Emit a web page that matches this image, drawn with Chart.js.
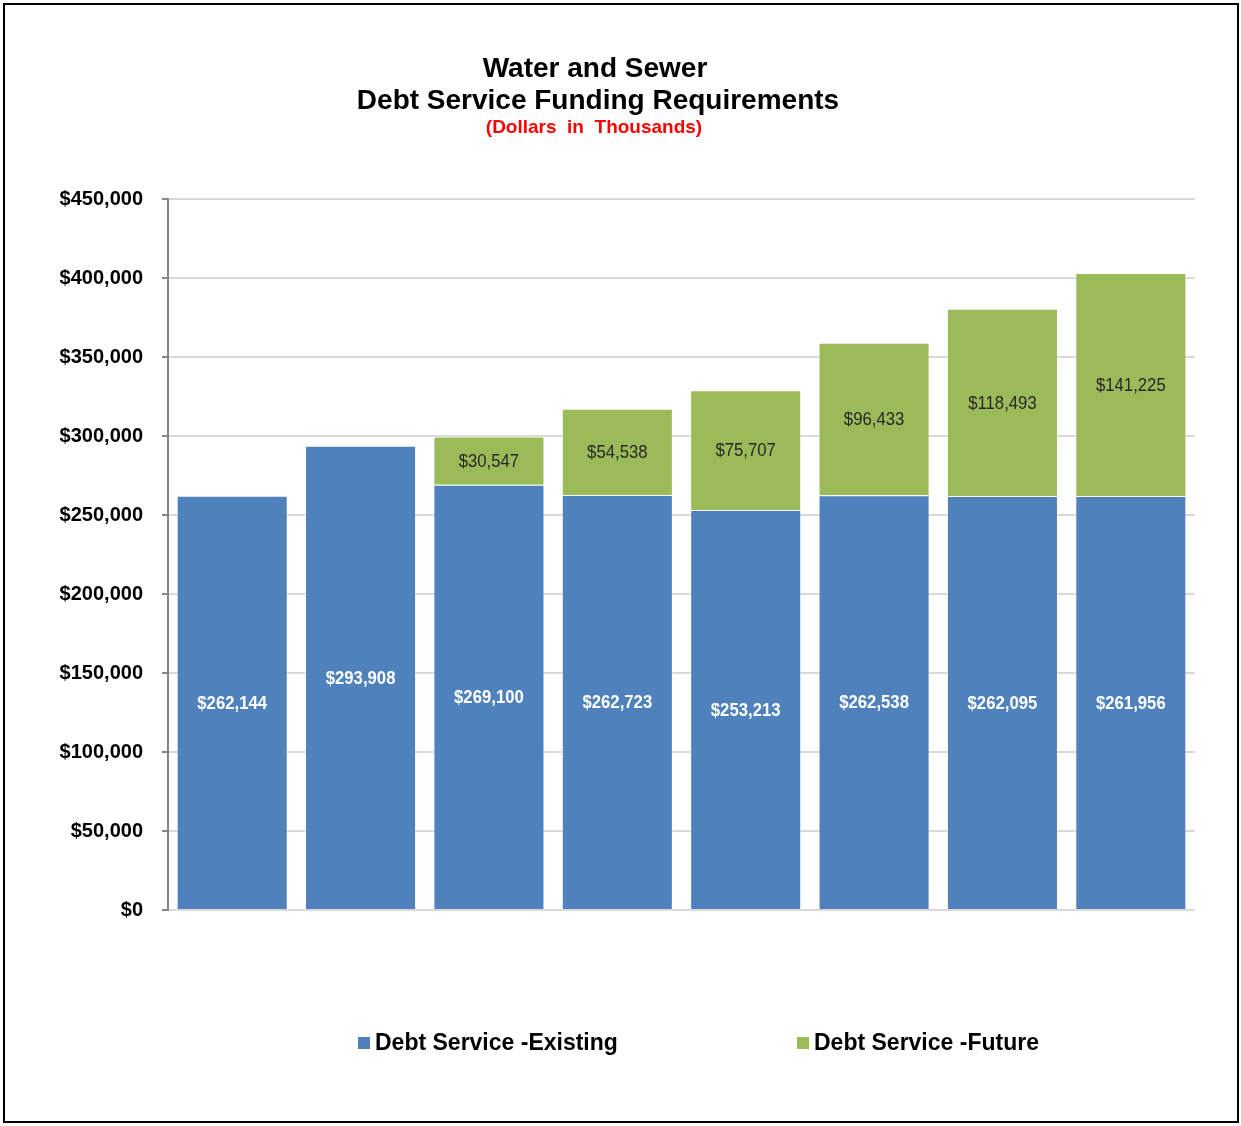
<!DOCTYPE html>
<html>
<head>
<meta charset="utf-8">
<script src="https://cdn.jsdelivr.net/npm/chart.js@4.4.1/dist/chart.umd.min.js"></script>
<style>
    html, body { margin: 0; padding: 0; background: #ffffff; }
    #frame {
        position: absolute; left: 3px; top: 3px;
        width: 1236px; height: 1120px;
        border: 2px solid #000000; box-sizing: border-box;
    }
    #chartWrap { position: absolute; left: 0; top: 0; width: 1232px; height: 1116px; }
    #legend {
        position: absolute; top: 1024px; left: 0; width: 1232px; height: 30px;
        font-family: "Liberation Sans", Arial, sans-serif; font-weight: bold; font-size: 23px; color: #000;
    }
    .legend-item { position: absolute; top: 0; white-space: nowrap; }
    .legend-box { display: inline-block; width: 12px; height: 12px; margin-right: 5px; vertical-align: 1px; }
</style>
</head>
<body>
<div id="frame">
    <div id="chartWrap"><canvas id="debtChart"></canvas></div>
    <div id="legend"></div>
</div>
<script>
const categories = ['Year 1', 'Year 2', 'Year 3', 'Year 4', 'Year 5', 'Year 6', 'Year 7', 'Year 8'];
const existingDebt = [262144, 293908, 269100, 262723, 253213, 262538, 262095, 261956];
const futureDebt = [null, null, 30547, 54538, 75707, 96433, 118493, 141225];
const yTicks = [0, 50000, 100000, 150000, 200000, 250000, 300000, 350000, 400000, 450000];

const money = (v) => '$' + v.toLocaleString('en-US');

// titles drawn above the plot
const titlePlugin = {
    id: 'titles',
    afterDraw(chart) {
        const ctx = chart.ctx;
        ctx.save();
        ctx.textAlign = 'center';
        ctx.textBaseline = 'middle';
        ctx.fillStyle = '#000000';
        ctx.font = 'bold 28px "Liberation Sans", Arial, sans-serif';
        ctx.fillText('Water and Sewer', 590, 64);
        ctx.fillText('Debt Service Funding Requirements', 593, 96);
        ctx.fillStyle = '#ff0000';
        ctx.font = 'bold 19px "Liberation Sans", Arial, sans-serif';
        ctx.fillText('(Dollars  in  Thousands)', 589, 123);
        ctx.restore();
    }
};

// value labels centred in each segment, squeezed to look like a narrow face
const valueLabels = {
    id: 'valueLabels',
    afterDatasetsDraw(chart) {
        const ctx = chart.ctx;
        const squeeze = 0.88;
        chart.data.datasets.forEach((ds, i) => {
            const meta = chart.getDatasetMeta(i);
            meta.data.forEach((bar, j) => {
                const v = ds.data[j];
                if (v == null) return;
                const mid = (bar.y + bar.base) / 2;
                ctx.save();
                ctx.textAlign = 'center';
                ctx.textBaseline = 'middle';
                if (i === 0) {
                    ctx.fillStyle = '#ffffff';
                    ctx.font = 'bold 19px "Liberation Sans", Arial, sans-serif';
                } else {
                    ctx.fillStyle = '#262626';
                    ctx.font = '19px "Liberation Sans", Arial, sans-serif';
                }
                ctx.translate(bar.x, mid + 1);
                ctx.scale(squeeze, 1);
                ctx.fillText(money(v), 0, 0);
                ctx.restore();
            });
        });
    }
};

const chart = new Chart(document.getElementById('debtChart'), {
    type: 'bar',
    data: {
        labels: categories,
        datasets: [{
            label: 'Debt Service -Existing',
            data: existingDebt,
            backgroundColor: '#4f81bd',
            borderColor: 'rgba(255,255,255,0.45)',
            borderWidth: 1,
            barPercentage: 0.865,
            categoryPercentage: 1
        }, {
            label: 'Debt Service -Future',
            data: futureDebt,
            backgroundColor: '#9bbb59',
            borderColor: 'rgba(255,255,255,0.45)',
            borderWidth: 1,
            barPercentage: 0.865,
            categoryPercentage: 1
        }]
    },
    options: {
        responsive: true,
        maintainAspectRatio: false,
        animation: false,
        layout: {
            padding: { top: 194, right: 42, bottom: 211, left: 0 }
        },
        plugins: {
            legend: { display: false },
            title: { display: false },
            tooltip: { enabled: false }
        },
        scales: {
            x: {
                stacked: true,
                display: false
            },
            y: {
                stacked: true,
                min: 0,
                max: 450000,
                afterBuildTicks: (scale) => {
                    scale.ticks = yTicks.map((v) => ({ value: v }));
                },
                afterFit: (scale) => {
                    scale.width = 163;
                },
                border: { color: '#868686', width: 2 },
                grid: {
                    color: '#d9d9d9',
                    lineWidth: 2,
                    tickLength: 6,
                    tickColor: '#868686'
                },
                ticks: {
                    padding: 19,
                    color: '#000000',
                    font: { family: '"Liberation Sans", Arial, sans-serif', size: 20, weight: 'bold' },
                    callback: (v) => money(v)
                }
            }
        }
    },
    plugins: [titlePlugin, valueLabels]
});

// legend built from the chart datasets
const legendEl = document.getElementById('legend');
const legendLeft = [353, 792];
chart.data.datasets.forEach((ds, i) => {
    const item = document.createElement('span');
    item.className = 'legend-item';
    item.style.left = legendLeft[i] + 'px';
    const box = document.createElement('span');
    box.className = 'legend-box';
    box.style.background = ds.backgroundColor;
    item.appendChild(box);
    item.appendChild(document.createTextNode(ds.label));
    legendEl.appendChild(item);
});
</script>
</body>
</html>
